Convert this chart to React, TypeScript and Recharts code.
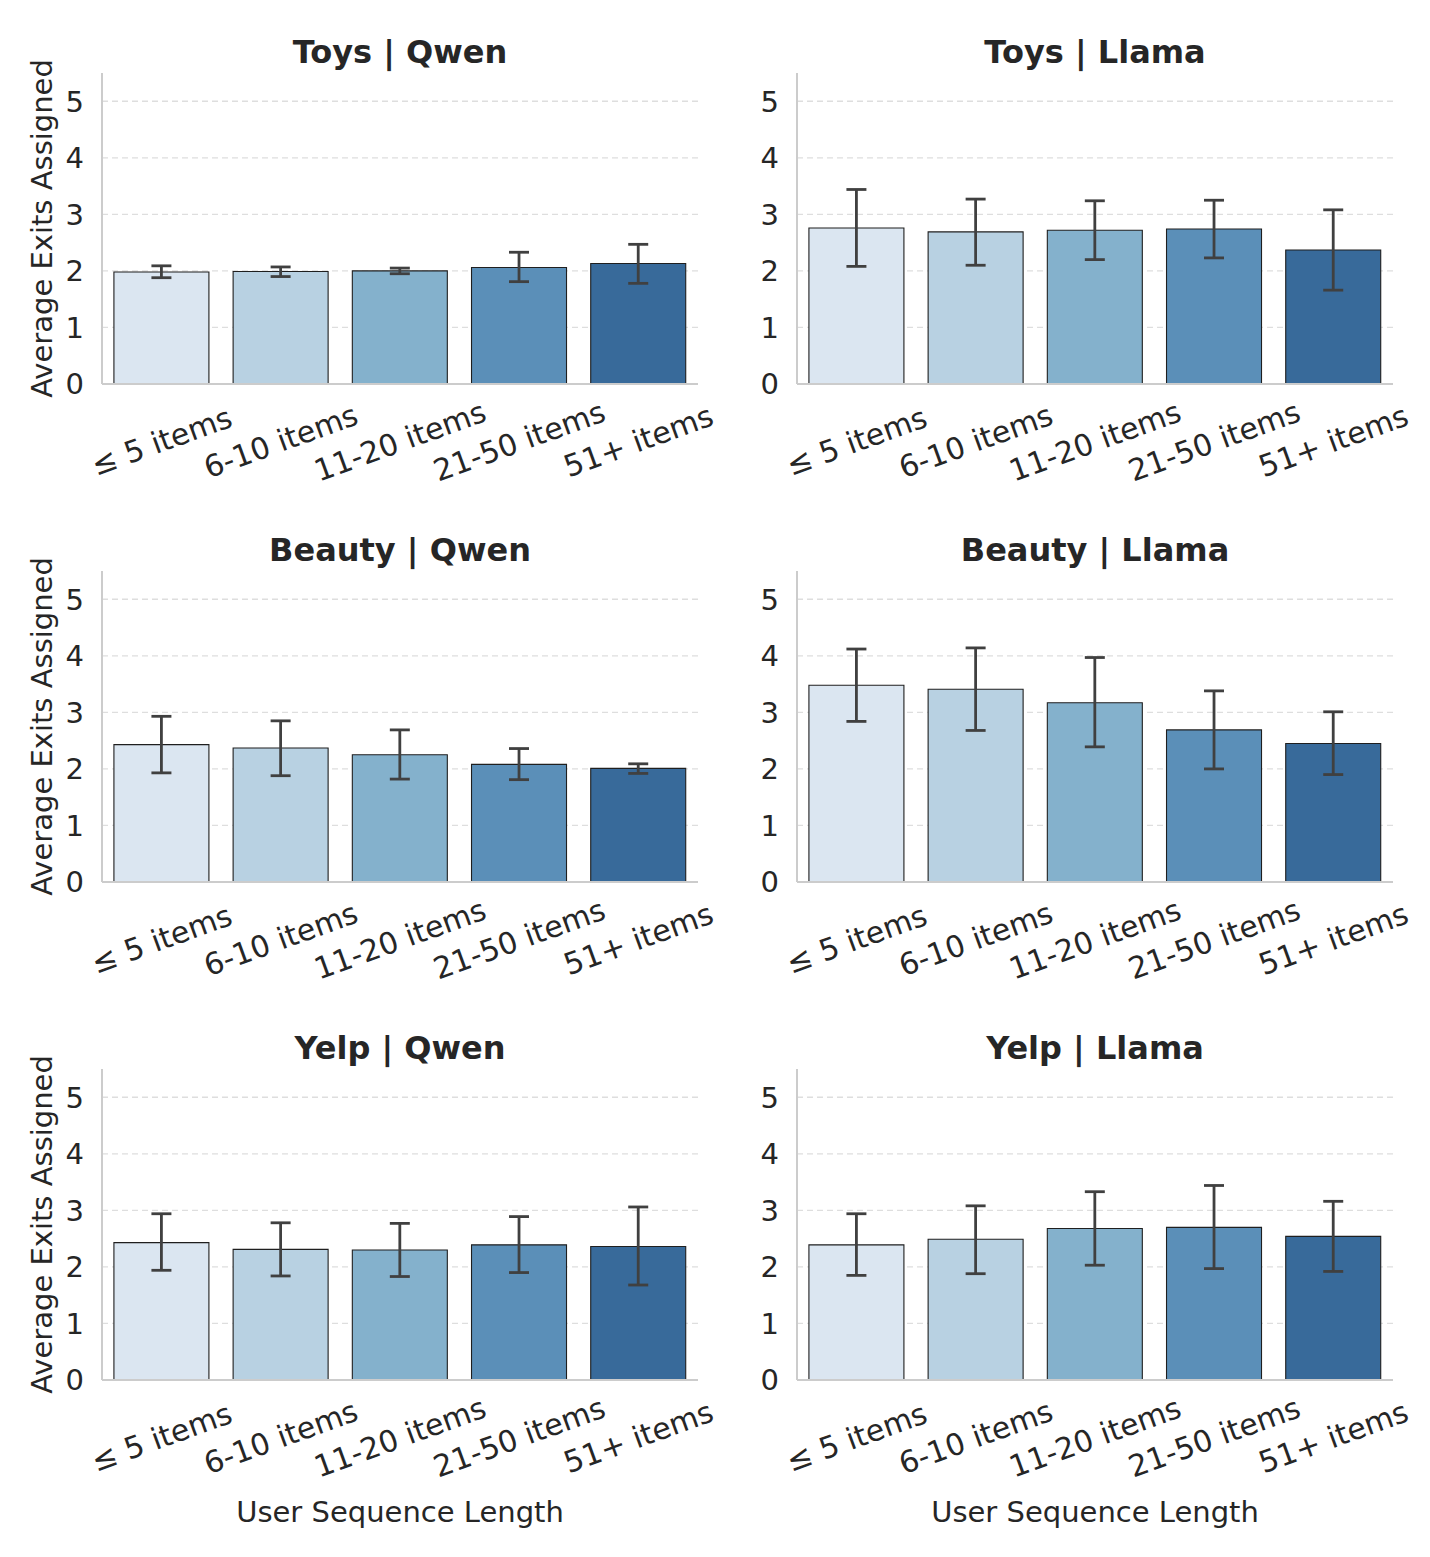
import { BarChart, Bar, XAxis, YAxis, CartesianGrid, Cell, ErrorBar } from 'recharts';

const categories = ['≤ 5 items', '6-10 items', '11-20 items', '21-50 items', '51+ items'];
const yTicks = [0, 1, 2, 3, 4, 5];
const barColors = ['#dbe6f1', '#b8d1e2', '#84b1cc', '#5b8fb8', '#386a9a'];

const toysQwenMean = [1.98, 1.99, 2.0, 2.06, 2.13];
const toysQwenLow = [1.88, 1.9, 1.95, 1.81, 1.78];
const toysQwenHigh = [2.09, 2.07, 2.05, 2.33, 2.47];

const toysLlamaMean = [2.76, 2.69, 2.72, 2.74, 2.37];
const toysLlamaLow = [2.08, 2.1, 2.2, 2.23, 1.66];
const toysLlamaHigh = [3.44, 3.27, 3.24, 3.25, 3.08];

const beautyQwenMean = [2.43, 2.37, 2.25, 2.08, 2.01];
const beautyQwenLow = [1.93, 1.88, 1.82, 1.81, 1.92];
const beautyQwenHigh = [2.93, 2.85, 2.69, 2.36, 2.09];

const beautyLlamaMean = [3.48, 3.41, 3.17, 2.69, 2.45];
const beautyLlamaLow = [2.84, 2.68, 2.39, 2.0, 1.9];
const beautyLlamaHigh = [4.12, 4.14, 3.97, 3.38, 3.01];

const yelpQwenMean = [2.43, 2.31, 2.3, 2.39, 2.36];
const yelpQwenLow = [1.94, 1.84, 1.83, 1.9, 1.68];
const yelpQwenHigh = [2.94, 2.78, 2.77, 2.89, 3.06];

const yelpLlamaMean = [2.39, 2.49, 2.68, 2.7, 2.54];
const yelpLlamaLow = [1.85, 1.88, 2.03, 1.97, 1.92];
const yelpLlamaHigh = [2.94, 3.08, 3.33, 3.44, 3.16];

const FONT = '"DejaVu Sans", sans-serif';
const TEXT = '#262626';

const buildRows = (mean: number[], low: number[], high: number[]) =>
  categories.map((name, i) => ({
    name,
    value: mean[i],
    err: [mean[i] - low[i], high[i] - mean[i]],
  }));

const XTick = ({ x, y, payload }: any) => (
  <g transform={`translate(${x},${y + 57})`}>
    <text
      textAnchor="middle"
      dominantBaseline="central"
      transform="rotate(-20)"
      fontSize={30}
      fill={TEXT}
      fontFamily={FONT}
    >
      {payload.value}
    </text>
  </g>
);

// grid only at the labelled ticks above zero (no line at the top edge)
const gridLines = ({ offset }: any) =>
  yTicks
    .filter((t) => t > 0)
    .map((t) => offset.top + offset.height * (1 - t / 5.5));

type PanelProps = {
  title: string;
  rows: any[];
  left: number;
  top: number;
  showYLabel: boolean;
  showXLabel: boolean;
};

const Panel = ({ title, rows, left, top, showYLabel, showXLabel }: PanelProps) => {
  const height = showXLabel ? 560 : 498;
  return (
    <div style={{ position: 'absolute', left, top, width: 720, height }}>
      <div
        style={{
          position: 'absolute',
          left: 102,
          width: 596,
          top: 32,
          textAlign: 'center',
          fontWeight: 'bold',
          fontSize: 32,
          lineHeight: '40px',
          color: TEXT,
          fontFamily: FONT,
        }}
      >
        {title}
      </div>
      <BarChart
        width={720}
        height={height}
        data={rows}
        margin={{ top: 73, right: 22, left: 0, bottom: 0 }}
        barCategoryGap="10%"
      >
        <CartesianGrid
          vertical={false}
          stroke="#dedede"
          strokeDasharray="6 4"
          strokeWidth={1.3}
          horizontalCoordinatesGenerator={gridLines}
        />
        <XAxis
          dataKey="name"
          height={height - 73 - 311}
          tickLine={false}
          tickSize={0}
          tickMargin={0}
          axisLine={{ stroke: '#cccccc', strokeWidth: 2 }}
          tick={<XTick />}
          interval={0}
          label={
            showXLabel
              ? {
                  content: ({ viewBox }: any) => (
                    <text
                      x={viewBox.x + viewBox.width / 2}
                      y={viewBox.y + 132}
                      textAnchor="middle"
                      dominantBaseline="central"
                      fontSize={29}
                      fill={TEXT}
                      fontFamily={FONT}
                    >
                      User Sequence Length
                    </text>
                  ),
                }
              : undefined
          }
        />
        <YAxis
          width={102}
          domain={[0, 5.5]}
          ticks={yTicks}
          tickLine={false}
          tickSize={0}
          tickMargin={18}
          axisLine={{ stroke: '#cccccc', strokeWidth: 2 }}
          tick={{ fontSize: 29, fill: TEXT, fontFamily: FONT }}
          label={
            showYLabel
              ? {
                  content: ({ viewBox }: any) => {
                    const cy = viewBox.y + viewBox.height / 2;
                    return (
                      <text
                        x={42}
                        y={cy}
                        textAnchor="middle"
                        dominantBaseline="central"
                        transform={`rotate(-90, 42, ${cy})`}
                        fontSize={29}
                        fill={TEXT}
                        fontFamily={FONT}
                      >
                        Average Exits Assigned
                      </text>
                    );
                  },
                }
              : undefined
          }
        />
        <Bar dataKey="value" stroke="#1f1f1f" strokeWidth={1.1} isAnimationActive={false}>
          {rows.map((_, i) => (
            <Cell key={i} fill={barColors[i]} />
          ))}
          <ErrorBar dataKey="err" width={10} stroke="#404040" strokeWidth={2.8} isAnimationActive={false} />
        </Bar>
      </BarChart>
    </div>
  );
};

export default function App() {
  return (
    <div
      style={{
        position: 'relative',
        width: 1430,
        height: 1557,
        background: '#ffffff',
        fontFamily: FONT,
      }}
    >
      <style>{'body{margin:0;}'}</style>
      <Panel title="Toys | Qwen" rows={buildRows(toysQwenMean, toysQwenLow, toysQwenHigh)} left={0} top={0} showYLabel showXLabel={false} />
      <Panel title="Toys | Llama" rows={buildRows(toysLlamaMean, toysLlamaLow, toysLlamaHigh)} left={695} top={0} showYLabel={false} showXLabel={false} />
      <Panel title="Beauty | Qwen" rows={buildRows(beautyQwenMean, beautyQwenLow, beautyQwenHigh)} left={0} top={498} showYLabel showXLabel={false} />
      <Panel title="Beauty | Llama" rows={buildRows(beautyLlamaMean, beautyLlamaLow, beautyLlamaHigh)} left={695} top={498} showYLabel={false} showXLabel={false} />
      <Panel title="Yelp | Qwen" rows={buildRows(yelpQwenMean, yelpQwenLow, yelpQwenHigh)} left={0} top={996} showYLabel showXLabel />
      <Panel title="Yelp | Llama" rows={buildRows(yelpLlamaMean, yelpLlamaLow, yelpLlamaHigh)} left={695} top={996} showYLabel={false} showXLabel />
    </div>
  );
}
